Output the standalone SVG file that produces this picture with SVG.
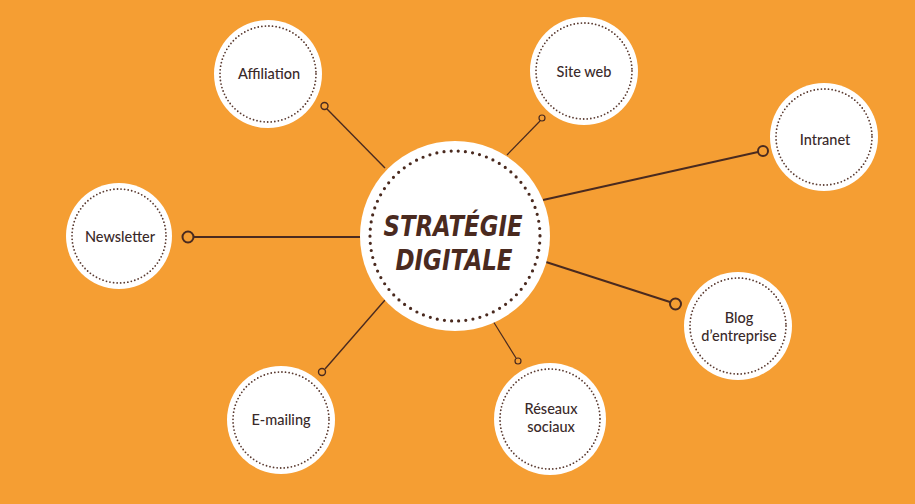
<svg xmlns="http://www.w3.org/2000/svg" width="915" height="504" viewBox="0 0 915 504">
<style>
.bub{fill:#ffffff}
.ring{fill:none;stroke:#5a3a30;stroke-width:1.8;stroke-linecap:round;stroke-dasharray:0 3.6}
.bigring{fill:none;stroke:#4a2a1f;stroke-width:3.2;stroke-linecap:round;stroke-dasharray:0 7.2}
.lbl{font-family:Lato,"Liberation Sans",sans-serif;font-weight:500;font-size:14.5px;fill:#3a2a2a;text-anchor:middle}
.title{font-family:"DejaVu Sans","Liberation Sans",sans-serif;font-weight:bold;font-style:italic;font-size:28px;fill:#4a2a1f;text-anchor:middle}
.ln{stroke:#4a2a1f;fill:none}
.end{fill:none;stroke:#4a2a1f}
</style>
<rect width="915" height="504" fill="#F59E33"/>
<g id="connectors">
<line class="ln" x1="385" y1="168" x2="327" y2="109" stroke-width="1.4"/>
<circle class="end" cx="324.5" cy="106" r="3.5" stroke-width="1.4"/>
<line class="ln" x1="360" y1="237" x2="194" y2="237" stroke-width="2"/>
<circle class="end" cx="188" cy="237" r="5.5" stroke-width="2"/>
<line class="ln" x1="507" y1="155" x2="540" y2="121" stroke-width="1.2"/>
<circle class="end" cx="542" cy="118" r="3" stroke-width="1.2"/>
<line class="ln" x1="543" y1="200" x2="758" y2="152" stroke-width="2"/>
<circle class="end" cx="763" cy="151" r="5" stroke-width="2"/>
<line class="ln" x1="546" y1="262" x2="670" y2="302" stroke-width="2"/>
<circle class="end" cx="675.5" cy="304" r="5.5" stroke-width="2"/>
<line class="ln" x1="493" y1="321" x2="516" y2="358" stroke-width="1.2"/>
<circle class="end" cx="518" cy="361" r="3" stroke-width="1.2"/>
<line class="ln" x1="385" y1="300" x2="325" y2="369" stroke-width="1.4"/>
<circle class="end" cx="322" cy="372" r="3.5" stroke-width="1.4"/>
</g>
<g id="center">
<circle class="bub" cx="455" cy="236" r="95"/>
<circle class="bigring" cx="455" cy="236" r="85"/>
<text class="title" x="453" y="236" textLength="139" lengthAdjust="spacingAndGlyphs">STRATÉGIE</text>
<text class="title" x="454" y="270" textLength="117" lengthAdjust="spacingAndGlyphs">DIGITALE</text>
</g>
<g id="affiliation">
<circle class="bub" cx="268" cy="74" r="54"/>
<circle class="ring" cx="268" cy="74" r="48"/>
<text class="lbl" x="269" y="79">Affiliation</text>
</g>
<g id="newsletter">
<circle class="bub" cx="119" cy="236" r="53"/>
<circle class="ring" cx="119" cy="236" r="47"/>
<text class="lbl" x="120" y="242">Newsletter</text>
</g>
<g id="siteweb">
<circle class="bub" cx="584" cy="71" r="54"/>
<circle class="ring" cx="584" cy="71" r="48"/>
<text class="lbl" x="584" y="77">Site web</text>
</g>
<g id="intranet">
<circle class="bub" cx="824" cy="137" r="54"/>
<circle class="ring" cx="824" cy="137" r="48"/>
<text class="lbl" x="825" y="145">Intranet</text>
</g>
<g id="blog">
<circle class="bub" cx="738" cy="326" r="54"/>
<circle class="ring" cx="738" cy="326" r="48"/>
<text class="lbl" x="739" y="323">Blog</text>
<text class="lbl" x="739" y="340.5">d’entreprise</text>
</g>
<g id="reseaux">
<circle class="bub" cx="550" cy="419" r="56"/>
<circle class="ring" cx="550" cy="419" r="50"/>
<text class="lbl" x="551" y="414">Réseaux</text>
<text class="lbl" x="551" y="431.5">sociaux</text>
</g>
<g id="emailing">
<circle class="bub" cx="281" cy="420" r="54"/>
<circle class="ring" cx="281" cy="420" r="48"/>
<text class="lbl" x="281" y="425">E-mailing</text>
</g>
</svg>
